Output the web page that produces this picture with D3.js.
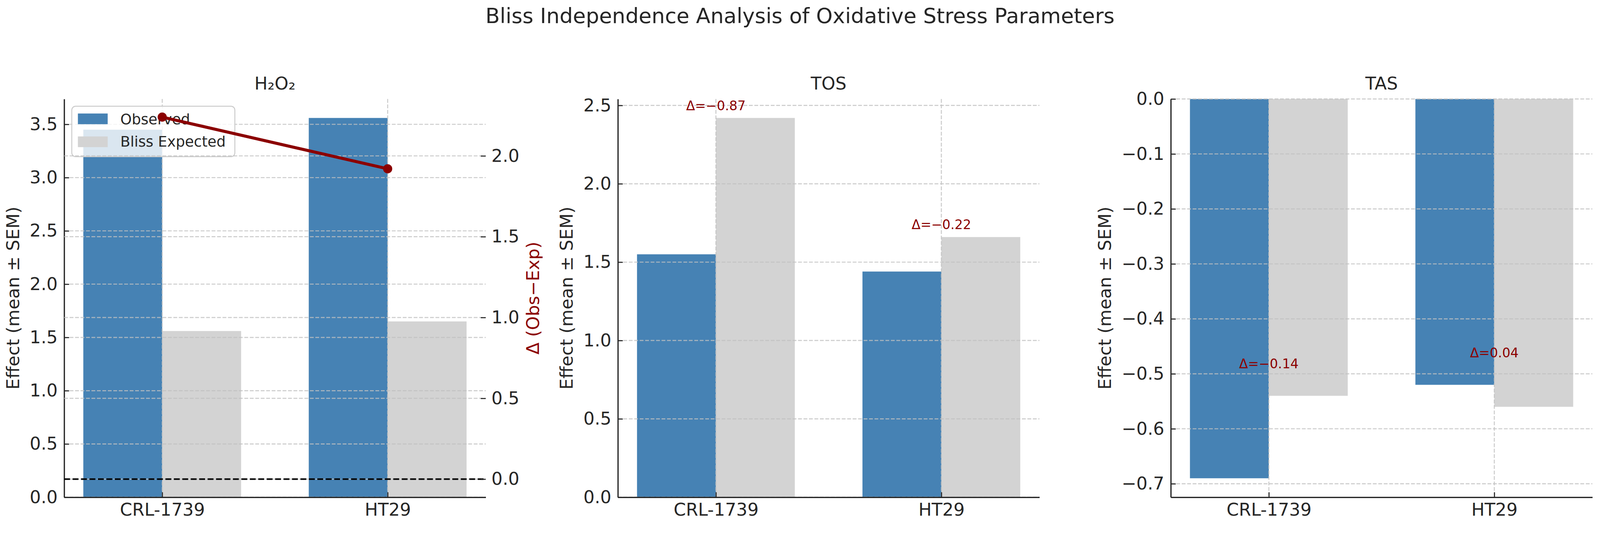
<!DOCTYPE html>
<html>
<head>
<meta charset="utf-8">
<script src="https://cdn.jsdelivr.net/npm/d3@7"></script>
<style>
  html, body { margin: 0; padding: 0; overflow: hidden; background: #fff; }
  svg { display: block; width: 100vw; height: 100vh; }
  text { font-family: "DejaVu Sans", sans-serif; fill: #262626; }
</style>
</head>
<body>
<svg id="chart"></svg>
<script>
// data
const groups = ["CRL-1739", "HT29"];
const seriesNames = ["Observed", "Bliss Expected"];
const panelTitles = ["H₂O₂", "TOS", "TAS"];

const h2o2Observed = [3.45, 3.56];
const h2o2Expected = [1.56, 1.65];
const h2o2Delta = [2.24, 1.92];

const tosObserved = [1.55, 1.44];
const tosExpected = [2.42, 1.66];
const tosDelta = [-0.87, -0.22];

const tasObserved = [-0.69, -0.52];
const tasExpected = [-0.54, -0.56];
const tasDelta = [-0.14, 0.04];

const W = 4190, H = 1371;
const colors = ["#4682b4", "#d3d3d3"];
const red = "#8b0000";
const ink = "#262626";
const barWidth = 0.35;

// panel boxes
const panelLeft = [168, 1618, 3066];
const panelW = 1104;
const plotTop = 259, plotBottom = 1301;
const tickFont = 46;

const panels = [
    { title: panelTitles[0], obs: h2o2Observed, exp: h2o2Expected, delta: h2o2Delta, twin: true },
    { title: panelTitles[1], obs: tosObserved, exp: tosExpected, delta: tosDelta, twin: false },
    { title: panelTitles[2], obs: tasObserved, exp: tasExpected, delta: tasDelta, twin: false }
];

// matplotlib-like autoscale: 5% margin, bars stick to zero
const barLimits = vals => {
    const lo = Math.min(0, d3.min(vals)), hi = Math.max(0, d3.max(vals));
    const m = (hi - lo) * 0.05;
    return [lo < 0 ? lo - m : 0, hi > 0 ? hi + m : 0];
};
const lineLimits = vals => {
    const lo = Math.min(0, d3.min(vals)), hi = Math.max(0, d3.max(vals));
    const m = (hi - lo) * 0.05;
    return [lo - m, hi + m];
};

// the viewBox keeps the figure fitted to the window width, pinned to the top
const svg = d3.select("#chart")
    .attr("viewBox", [0, 0, W, H])
    .attr("preserveAspectRatio", "xMidYMin meet");

svg.append("text")
    .attr("x", W / 2)
    .attr("y", 60)
    .attr("text-anchor", "middle")
    .style("font-size", "55px")
    .text("Bliss Independence Analysis of Oxidative Stress Parameters");

const gridStyle = sel => sel
    .attr("stroke", "#c0c0c0")
    .attr("stroke-opacity", 0.8)
    .attr("stroke-width", 2.7)
    .attr("stroke-dasharray", "10,4.3");

const styleAxis = (g, hideDomain) => {
    g.selectAll(".tick line").attr("stroke", ink).attr("stroke-width", 2.7);
    g.selectAll(".tick text").style("font-size", tickFont + "px").attr("fill", ink);
    if (hideDomain) g.select(".domain").remove();
    else g.select(".domain").attr("stroke", ink).attr("stroke-width", 3.3);
};

panels.forEach((p, pi) => {
    const left = panelLeft[pi], right = left + panelW;
    const g = svg.append("g");

    const x = d3.scaleLinear().domain([-0.435, 1.435]).range([left, right]);
    const y = d3.scaleLinear().domain(barLimits(p.obs.concat(p.exp))).range([plotBottom, plotTop]);
    const yTicks = y.ticks(8);

    // bars
    const series = [p.obs, p.exp];
    series.forEach((vals, si) => {
        g.append("g")
            .selectAll("rect")
            .data(vals)
            .join("rect")
            .attr("x", (d, i) => x(i + (si === 0 ? -barWidth : 0)))
            .attr("width", x(barWidth) - x(0))
            .attr("y", d => Math.min(y(d), y(0)))
            .attr("height", d => Math.abs(y(d) - y(0)))
            .attr("fill", colors[si]);
    });

    // grid above bars
    const grid = g.append("g");
    grid.selectAll("line.h")
        .data(yTicks)
        .join("line")
        .attr("class", "h")
        .attr("x1", left).attr("x2", right)
        .attr("y1", d => y(d)).attr("y2", d => y(d))
        .call(gridStyle);
    grid.selectAll("line.v")
        .data(groups)
        .join("line")
        .attr("class", "v")
        .attr("x1", (d, i) => x(i)).attr("x2", (d, i) => x(i))
        .attr("y1", plotTop).attr("y2", plotBottom)
        .call(gridStyle);

    // axes, ticks pointing inwards
    const yAxis = g.append("g")
        .attr("transform", `translate(${left},0)`)
        .call(d3.axisLeft(y).tickValues(yTicks).tickFormat(d3.format(".1f"))
            .tickSizeInner(-13).tickSizeOuter(0).tickPadding(17));
    styleAxis(yAxis, false);

    const xAxis = g.append("g")
        .attr("transform", `translate(0,${plotBottom})`)
        .call(d3.axisBottom(x).tickValues([0, 1]).tickFormat((d, i) => groups[i])
            .tickSizeInner(-13).tickSizeOuter(0).tickPadding(16));
    styleAxis(xAxis, false);

    // title
    g.append("text")
        .attr("x", (left + right) / 2)
        .attr("y", 234)
        .attr("text-anchor", "middle")
        .style("font-size", "46px")
        .text(p.title);

    // y label placed off the tick labels
    let minX = Infinity;
    yAxis.selectAll(".tick text").each(function () {
        const b = this.getBBox();
        minX = Math.min(minX, left + b.x);
    });
    g.append("text")
        .attr("transform", `translate(${minX - 17 - 11},${(plotTop + plotBottom) / 2}) rotate(-90)`)
        .attr("text-anchor", "middle")
        .style("font-size", "46px")
        .text("Effect (mean ± SEM)");

    if (p.twin) {
        // legend
        const lg = g.append("g");
        lg.append("rect")
            .attr("x", 188).attr("y", 278)
            .attr("width", 427).attr("height", 132)
            .attr("rx", 10)
            .attr("fill", "#fff").attr("fill-opacity", 0.8)
            .attr("stroke", "#cccccc").attr("stroke-width", 2.5);
        seriesNames.forEach((name, si) => {
            lg.append("rect")
                .attr("x", 204).attr("y", 297 + si * 60)
                .attr("width", 78).attr("height", 28)
                .attr("fill", colors[si]);
            lg.append("text")
                .attr("x", 315).attr("y", 325 + si * 59)
                .style("font-size", "38px")
                .text(name);
        });

        // twin axis for delta
        const y2 = d3.scaleLinear().domain(lineLimits(p.delta)).range([plotBottom, plotTop]);
        const y2Ticks = y2.ticks(5);
        g.append("g").selectAll("line")
            .data(y2Ticks)
            .join("line")
            .attr("x1", left).attr("x2", right)
            .attr("y1", d => y2(d)).attr("y2", d => y2(d))
            .call(gridStyle);

        g.append("line")
            .attr("x1", left).attr("x2", right)
            .attr("y1", y2(0)).attr("y2", y2(0))
            .attr("stroke", "#000")
            .attr("stroke-width", 4.2)
            .attr("stroke-dasharray", "15.4,6.7");

        const line = d3.line().x((d, i) => x(i)).y(d => y2(d));
        g.append("path")
            .datum(p.delta)
            .attr("d", line)
            .attr("fill", "none")
            .attr("stroke", red)
            .attr("stroke-width", 8);
        g.append("g").selectAll("circle")
            .data(p.delta)
            .join("circle")
            .attr("cx", (d, i) => x(i))
            .attr("cy", d => y2(d))
            .attr("r", 12)
            .attr("fill", red);

        const rAxis = g.append("g")
            .attr("transform", `translate(${right},0)`)
            .call(d3.axisRight(y2).tickValues(y2Ticks).tickFormat(d3.format(".1f"))
                .tickSizeInner(-13).tickSizeOuter(0).tickPadding(15));
        styleAxis(rAxis, true);

        let maxX = -Infinity;
        rAxis.selectAll(".tick text").each(function () {
            const b = this.getBBox();
            maxX = Math.max(maxX, right + b.x + b.width);
        });
        g.append("text")
            .attr("transform", `translate(${maxX + 17 + 35},${(plotTop + plotBottom) / 2}) rotate(-90)`)
            .attr("text-anchor", "middle")
            .style("font-size", "46px")
            .style("fill", red)
            .text("Δ (Obs−Exp)");
    } else {
        // delta labels above the taller bar
        g.append("g").selectAll("text")
            .data(p.delta)
            .join("text")
            .attr("x", (d, i) => x(i))
            .attr("y", (d, i) => y(Math.max(p.obs[i], p.exp[i]) + 0.05))
            .attr("text-anchor", "middle")
            .style("font-size", "34px")
            .style("fill", red)
            .text(d => "Δ=" + d3.format(".2f")(d));
    }
});
</script>
</body>
</html>
